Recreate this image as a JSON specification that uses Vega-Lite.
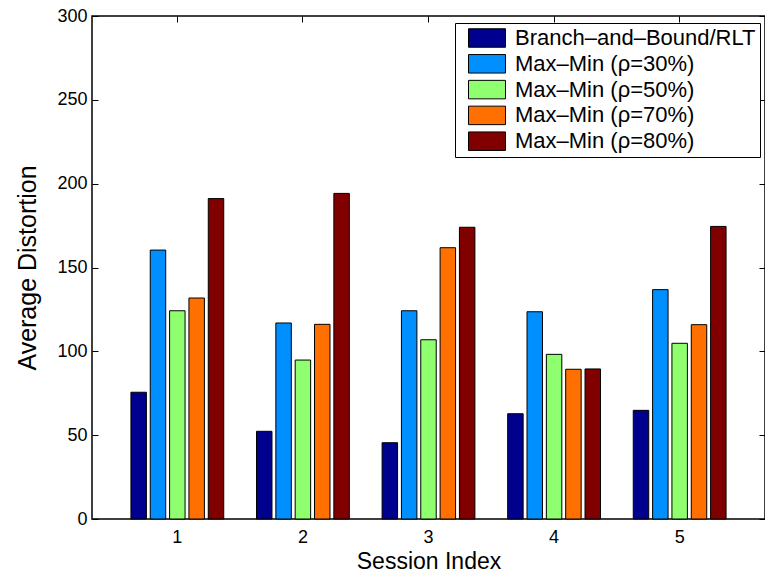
{
  "$schema": "https://vega.github.io/schema/vega-lite/v6.json",
  "width": 673,
  "height": 503,
  "autosize": {"type": "none"},
  "padding": {"left": 92, "top": 16, "right": 0, "bottom": 56},
  "background": "white",
  "config": {
    "font": "Liberation Sans",
    "view": {"stroke": "black", "strokeWidth": 1.5},
    "axis": {
      "grid": false,
      "domain": false,
      "offset": -6,
      "tickColor": "black",
      "tickWidth": 1,
      "tickSize": 6,
      "labelColor": "black",
      "labelFont": "Liberation Sans",
      "labelFontSize": 18,
      "titleColor": "black",
      "titleFont": "Liberation Sans",
      "titleFontWeight": "normal"
    }
  },
  "data": {
    "values": [
      {"session": "1", "method": "Branch–and–Bound/RLT", "distortion": 75.6},
      {"session": "1", "method": "Max–Min (ρ=30%)", "distortion": 160.4},
      {"session": "1", "method": "Max–Min (ρ=50%)", "distortion": 124.2},
      {"session": "1", "method": "Max–Min (ρ=70%)", "distortion": 131.8},
      {"session": "1", "method": "Max–Min (ρ=80%)", "distortion": 191.1},
      {"session": "2", "method": "Branch–and–Bound/RLT", "distortion": 52.3},
      {"session": "2", "method": "Max–Min (ρ=30%)", "distortion": 116.9},
      {"session": "2", "method": "Max–Min (ρ=50%)", "distortion": 94.8},
      {"session": "2", "method": "Max–Min (ρ=70%)", "distortion": 116.1},
      {"session": "2", "method": "Max–Min (ρ=80%)", "distortion": 194.2},
      {"session": "3", "method": "Branch–and–Bound/RLT", "distortion": 45.5},
      {"session": "3", "method": "Max–Min (ρ=30%)", "distortion": 124.2},
      {"session": "3", "method": "Max–Min (ρ=50%)", "distortion": 106.9},
      {"session": "3", "method": "Max–Min (ρ=70%)", "distortion": 161.8},
      {"session": "3", "method": "Max–Min (ρ=80%)", "distortion": 174.0},
      {"session": "4", "method": "Branch–and–Bound/RLT", "distortion": 62.8},
      {"session": "4", "method": "Max–Min (ρ=30%)", "distortion": 123.6},
      {"session": "4", "method": "Max–Min (ρ=50%)", "distortion": 98.2},
      {"session": "4", "method": "Max–Min (ρ=70%)", "distortion": 89.3},
      {"session": "4", "method": "Max–Min (ρ=80%)", "distortion": 89.5},
      {"session": "5", "method": "Branch–and–Bound/RLT", "distortion": 64.8},
      {"session": "5", "method": "Max–Min (ρ=30%)", "distortion": 136.8},
      {"session": "5", "method": "Max–Min (ρ=50%)", "distortion": 104.8},
      {"session": "5", "method": "Max–Min (ρ=70%)", "distortion": 115.9},
      {"session": "5", "method": "Max–Min (ρ=80%)", "distortion": 174.5}
    ]
  },
  "resolve": {"axis": {"x": "independent", "y": "independent"}},
  "layer": [
    {
      "mark": {"type": "bar", "stroke": "black", "strokeWidth": 1},
      "encoding": {
        "x": {
          "field": "session",
          "type": "ordinal",
          "scale": {"paddingInner": 0.261, "paddingOuter": 0.31},
          "axis": {"title": "Session Index", "titleFontSize": 23, "labelAngle": 0, "labelPadding": 9, "titlePadding": 4}
        },
        "xOffset": {
          "field": "method",
          "type": "nominal",
          "scale": {"paddingInner": 0.2, "paddingOuter": 0},
          "sort": null
        },
        "y": {
          "field": "distortion",
          "type": "quantitative",
          "scale": {"domain": [0, 300], "nice": false, "zero": true},
          "axis": {"title": "Average Distortion", "titleFontSize": 25, "values": [0, 50, 100, 150, 200, 250, 300], "labelPadding": 5, "titlePadding": 16}
        },
        "color": {
          "field": "method",
          "type": "nominal",
          "sort": null,
          "scale": {
            "domain": ["Branch–and–Bound/RLT", "Max–Min (ρ=30%)", "Max–Min (ρ=50%)", "Max–Min (ρ=70%)", "Max–Min (ρ=80%)"],
            "range": ["#00008F", "#008FFF", "#8FFF70", "#FF7000", "#800000"]
          },
          "legend": {
            "title": null,
            "orient": "none",
            "legendX": 363,
            "legendY": 7,
            "symbolType": "M-2,-1H2V1H-2Z",
            "symbolSize": 342,
            "symbolOffset": 17,
            "symbolStrokeColor": "black",
            "symbolStrokeWidth": 1,
            "symbolOpacity": 1,
            "labelFont": "Liberation Sans",
            "labelFontSize": 22,
            "labelColor": "black",
            "labelOffset": 17,
            "labelLimit": 400,
            "rowPadding": 1.8,
            "padding": 4,
            "strokeColor": "black",
            "fillColor": "white",
            "cornerRadius": 0
          }
        }
      }
    },
    {
      "mark": {"type": "bar", "opacity": 0},
      "encoding": {
        "x": {"field": "session", "type": "ordinal", "axis": {"orient": "top", "labels": false, "title": null}},
        "xOffset": {"field": "method", "type": "nominal", "sort": null},
        "y": {"field": "distortion", "type": "quantitative", "axis": {"orient": "right", "labels": false, "title": null, "values": [0, 50, 100, 150, 200, 250, 300]}}
      }
    }
  ]
}
